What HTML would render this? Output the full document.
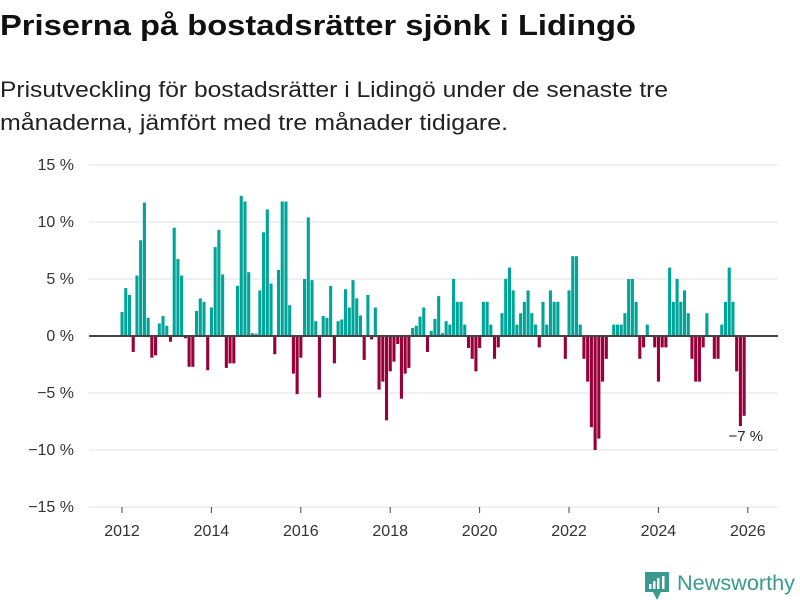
<!DOCTYPE html>
<html><head><meta charset="utf-8">
<style>
html,body{margin:0;padding:0;background:#fff;width:800px;height:600px;overflow:hidden;font-family:"Liberation Sans",sans-serif;}
svg{display:block}
</style></head>
<body>
<svg id="chart" width="800" height="600" xmlns="http://www.w3.org/2000/svg">
<text x="0" y="35" font-size="29" font-weight="bold" fill="#111" textLength="636" lengthAdjust="spacingAndGlyphs">Priserna på bostadsrätter sjönk i Lidingö</text>
<text x="0" y="97" font-size="22" fill="#222" textLength="668" lengthAdjust="spacingAndGlyphs">Prisutveckling för bostadsrätter i Lidingö under de senaste tre</text>
<text x="0" y="130" font-size="22" fill="#222" textLength="508" lengthAdjust="spacingAndGlyphs">månaderna, jämfört med tre månader tidigare.</text>
<g id="grid"></g><g id="bars"></g><g id="axes"></g>
<g>
<path d="M645 572h24v20h-8l-4 8l-4-8h-8z" fill="#3a9a90"/>
<rect x="649" y="584" width="2.5" height="5" fill="#fff"/><rect x="653" y="581" width="2.5" height="8" fill="#fff"/><rect x="657" y="578" width="2.5" height="11" fill="#fff"/><rect x="662" y="576" width="2.5" height="13" fill="#fff"/>
<text x="677" y="590" font-size="21" fill="#3a9a90" textLength="118" lengthAdjust="spacingAndGlyphs">Newsworthy</text>
</g>
</svg>
<script>
const yTicks=[15,10,5,0,-5,-10,-15];
const yTickLabels=["15 %","10 %","5 %","0 %","−5 %","−10 %","−15 %"];
const xYears=[2012,2014,2016,2018,2020,2022,2024,2026];
const startYear=2012;
const values=[2.1,4.2,3.6,-1.4,5.3,8.4,11.7,1.6,-1.9,-1.7,1.1,1.75,
0.9,-0.5,9.5,6.75,5.3,-0.2,-2.7,-2.7,2.2,3.3,3.0,-3.0,
2.5,7.8,9.3,5.4,-2.8,-2.4,-2.4,4.4,12.3,11.8,5.6,0.25,
0.2,4.0,9.1,11.1,4.6,-1.6,5.8,11.8,11.8,2.7,-3.3,-5.1,
-1.9,5.0,10.4,4.9,1.3,-5.4,1.75,1.6,4.4,-2.4,1.3,1.45,
4.1,2.5,4.9,3.3,1.8,-2.1,3.6,-0.3,2.5,-4.7,-4.0,-7.4,
-3.1,-2.25,-0.7,-5.5,-3.3,-2.8,0.7,0.9,1.7,2.5,-1.4,0.45,
1.5,3.5,0.25,1.3,1.0,5.0,3.0,3.0,1.0,-1.05,-2.0,-3.1,
-1.05,3.0,3.0,1.0,-2.0,-1.0,2.0,5.0,6.0,4.0,1.0,2.0,
3.0,4.0,2.0,1.0,-1.0,3.0,1.0,4.0,3.0,3.0,0,-2.0,
4.0,7.0,7.0,1.0,-2.0,-4.0,-8.0,-10.0,-9.0,-4.0,-2.0,0,
1.0,1.0,1.0,2.0,5.0,5.0,3.0,-2.0,-1.0,1.0,0,-1.0,
-4.0,-1.0,-1.0,6.0,3.0,5.0,3.0,4.0,2.0,-2.0,-4.0,-4.0,
-1.0,2.0,0,-2.0,-2.0,1.0,3.0,6.0,3.0,-3.1,-7.9,-7.0];
const lastLabel="−7 %";

const NS="http://www.w3.org/2000/svg";
const y=v=>336-v*11.4;
const x=m=>122+m*3.725;
function mk(tag,attrs,parent){const e=document.createElementNS(NS,tag);for(const k in attrs)e.setAttribute(k,attrs[k]);parent.appendChild(e);return e;}
const grid=document.getElementById('grid'),bars=document.getElementById('bars'),axes=document.getElementById('axes');
yTicks.forEach((t,i)=>{
  if(t!==0){const l=mk('line',{x1:89,x2:778,y1:y(t),y2:y(t),stroke:'#e0e0e0','stroke-width':1},grid);
  
  }
  const tx=mk('text',{x:74,y:y(t)+5,'text-anchor':'end','font-size':16,fill:'#333'},axes);
  tx.textContent=yTickLabels[i];
  
  
});
values.forEach((v,i)=>{
  const r=mk('rect',{x:x(i)-1.5,width:3.1,y:v>=0?y(v):y(0),height:Math.abs(y(v)-y(0)),fill:v>=0?'#00a59a':'#970038'},bars);
  
  
});
const z=mk('line',{x1:89,x2:778,y1:y(0),y2:y(0),stroke:'#444','stroke-width':2},axes);


xYears.forEach(yr=>{
  const m=(yr-startYear)*12;
  const tk=mk('line',{x1:x(m),x2:x(m),y1:507,y2:513,stroke:'#444','stroke-width':1},axes);
  
  
  const t=mk('text',{x:x(m),y:536,'text-anchor':'middle','font-size':16,fill:'#333'},axes);
  t.textContent=yr;
  
  
});
const li=values.length-1;
const lb=mk('text',{x:x(li)+19,y:y(values[li])+25,'text-anchor':'end','font-size':15,fill:'#222'},axes);
lb.textContent=lastLabel;


</script>
</body></html>
